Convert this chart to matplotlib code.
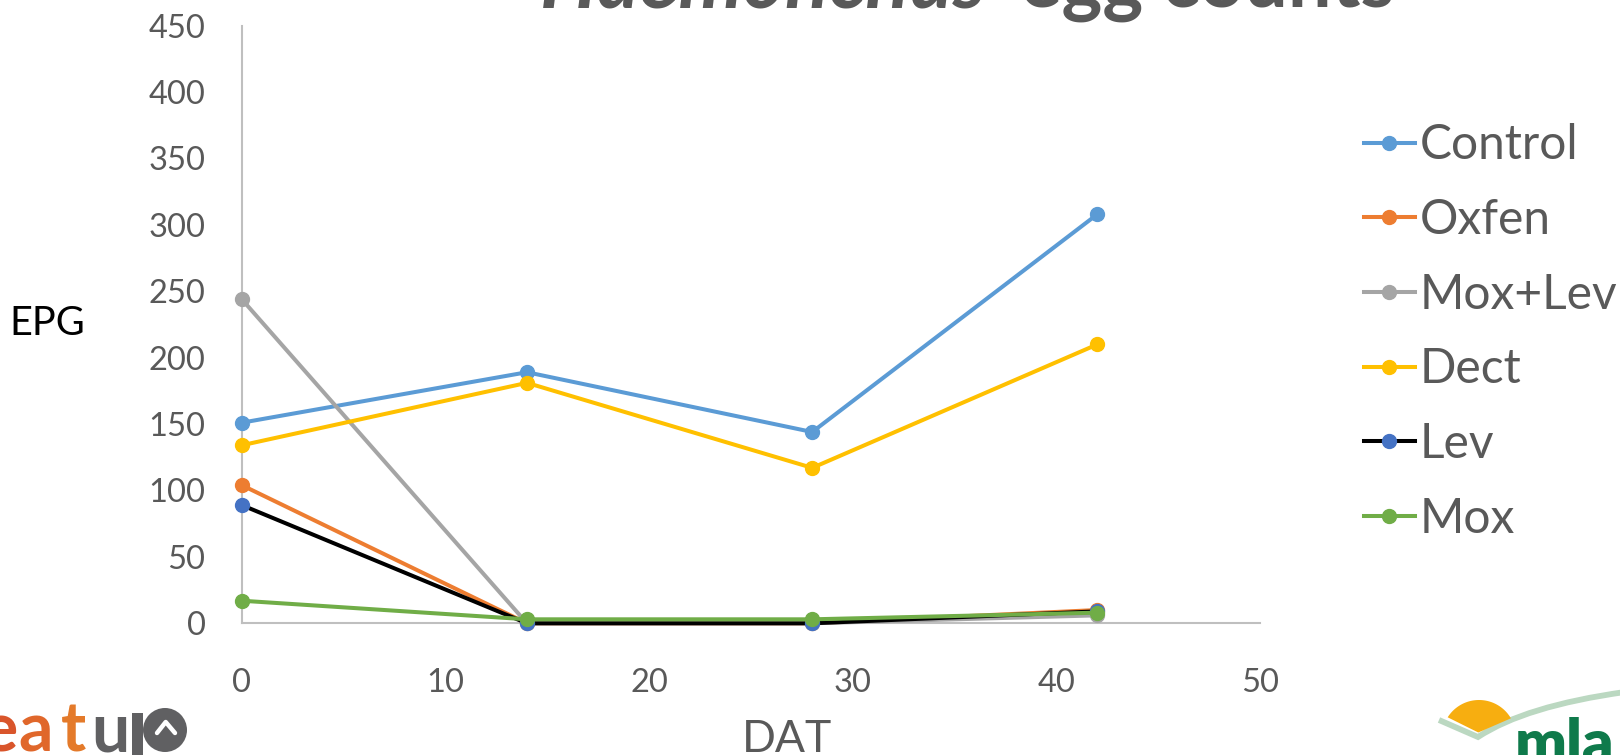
import numpy as np
import matplotlib
matplotlib.use("Agg")
import matplotlib.pyplot as plt
from matplotlib.patches import Circle, Polygon, Rectangle, PathPatch
from matplotlib.path import Path

plt.rcParams['font.family'] = ['Lato', 'DejaVu Sans']

# Days after treatment and faecal egg counts (eggs per gram)
dat = [0, 14, 28, 42]
series_names = ["Control", "Oxfen", "Mox+Lev", "Dect", "Lev", "Mox"]
control = [151, 189, 144, 308]
oxfen = [104, 0, 0, 10]
mox_lev = [244, 0, 0, 6]
dect = [134, 181, 117, 210]
lev = [89, 0, 0, 9]
mox = [17, 3, 3, 8]

x_ticks = [0, 10, 20, 30, 40, 50]
y_ticks = [0, 50, 100, 150, 200, 250, 300, 350, 400, 450]

values = [control, oxfen, mox_lev, dect, lev, mox]
line_colors = ["#5B9BD5", "#ED7D31", "#A5A5A5", "#FFC000", "#000000", "#70AD47"]
marker_colors = ["#5B9BD5", "#ED7D31", "#A5A5A5", "#FFC000", "#4472C4", "#70AD47"]

W, H = 1620, 755
fig = plt.figure(figsize=(W / 100, H / 100), dpi=100)
renderer = fig.canvas.get_renderer()

# pixel-space layer for title, axis captions and logos
bg = fig.add_axes([0, 0, 1, 1], zorder=0)
bg.set_xlim(0, W)
bg.set_ylim(H, 0)
bg.axis("off")

grey_text = "#595959"


def fitted_text(x0, x1, y, s, **kw):
    """Place text starting at x0 and scale its size so it ends at x1."""
    t = bg.text(x0, y, s, fontsize=50, ha="left", va="baseline", **kw)
    w = t.get_window_extent(renderer).width
    t.set_fontsize(50 * (x1 - x0) / w)
    return t


# title
fitted_text(540, 987, 7, "Haemonchus", fontweight="bold", fontstyle="italic",
            color=grey_text)
fitted_text(1020, 1395, 7, "egg counts", fontweight="bold", color=grey_text)

# axis captions
bg.text(9, 335, "EPG", fontsize=28.5, color="black", ha="left", va="baseline")
bg.text(787, 752, "DAT", fontsize=32, color=grey_text, ha="center", va="baseline")

# eatup logo (bottom left)
logo_grey = "#606062"
for ch, xc, col in [("e", 0, "#D9552B"), ("a", 36, "#E0672B"), ("t", 73, "#E47A2A"),
                    ("u", 110, logo_grey)]:
    bg.text(xc, 752, ch, fontsize=49, fontweight="bold", color=col,
            ha="center", va="baseline")
bg.add_patch(Rectangle((132, 713), 11, 60, color=logo_grey, lw=0))
bg.add_patch(Circle((165, 730), 22, color=logo_grey, lw=0))
bg.plot([157, 165.7, 175], [733, 722, 733], color="white", lw=3.2,
        solid_capstyle="round", solid_joinstyle="round")

# mla logo (bottom right)
swoosh = Path([(1439, 720), (1478, 737), (1525, 706), (1625, 692)],
              [Path.MOVETO, Path.LINETO, Path.CURVE3, Path.CURVE3])
bg.add_patch(PathPatch(swoosh, fill=False, edgecolor="#BBD8C1", lw=4.2,
                       joinstyle="miter"))
cx, cy, r = 1479, 737, 37
ang = np.linspace(np.pi + np.arcsin((cy - 717.3) / r),
                  2 * np.pi - np.arcsin((cy - 718.3) / r), 60)
sun = np.column_stack([cx + r * np.cos(ang), cy + r * np.sin(ang)])
sun = np.vstack([sun, [(1478.3, 732.5)]])
bg.add_patch(Polygon(sun, closed=True, color="#F7AE10", lw=0))
bg.text(1515, 763, "mla", fontsize=44, fontweight="heavy", color="#0F7A4B",
        ha="left", va="baseline")

# main chart
ax = fig.add_axes([241.7 / W, 1 - 623.3 / H, (1260.5 - 241.7) / W, (623.3 - 25.5) / H],
                  zorder=1)
ax.patch.set_alpha(0)

for name, vals, lc, mc in zip(series_names, values, line_colors, marker_colors):
    ax.plot(dat, vals, color=lc, lw=2.9, marker="o", markersize=10,
            markerfacecolor=mc, markeredgecolor=mc, label=name, clip_on=False)

ax.set_xlim(0, 50)
ax.set_ylim(0, 450)
ax.set_xticks(x_ticks)
ax.set_yticks(y_ticks)
for s in ("top", "right"):
    ax.spines[s].set_visible(False)
for s in ("left", "bottom"):
    ax.spines[s].set_color("#BFBFBF")
    ax.spines[s].set_linewidth(1.5)
    ax.spines[s].set_zorder(0.5)
ax.tick_params(axis="both", length=0, labelsize=23.5, labelcolor=grey_text)
ax.tick_params(axis="y", pad=26)
ax.tick_params(axis="x", pad=32)

leg = ax.legend(loc="center left", bbox_to_anchor=(1364 / W, 1 - 332 / H),
                bbox_transform=fig.transFigure, frameon=False, fontsize=34.5,
                handlelength=1.06, handletextpad=0.1, labelspacing=0.64,
                borderpad=0, borderaxespad=0)
for t in leg.get_texts():
    t.set_color(grey_text)

fig.savefig("out.png", dpi=100)
